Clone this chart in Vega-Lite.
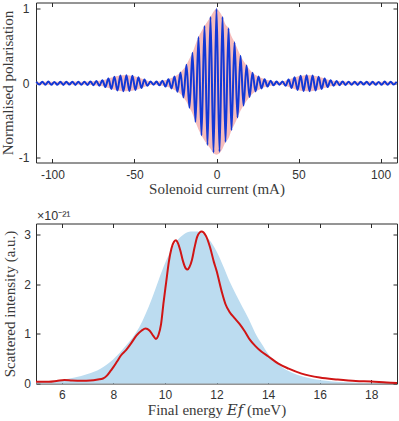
{
  "$schema": "https://vega.github.io/schema/vega-lite/v6.json",
  "padding": {"left": 0, "top": 1.5, "right": 2, "bottom": 0},
  "background": "white",
  "config": {
    "view": {"stroke": "#2b2b2b", "strokeWidth": 1},
    "axis": {"grid": false, "domain": false, "tickSize": -4, "tickColor": "#2b2b2b", "tickWidth": 1, "labelFont": "Liberation Sans, Arial, sans-serif", "labelFontSize": 12, "labelColor": "#333333", "titleFont": "'Liberation Serif', 'Times New Roman', 'DejaVu Serif', serif", "titleFontSize": 15, "titleFontWeight": "normal", "titleColor": "#3a3a3a"},
    "axisBottom": {"labelPadding": 11, "titlePadding": 1},
    "axisLeft": {"labelPadding": 11}
  },
  "datasets": {
    "pol": [
      {"x":-109.8,"p":0.02,"e":0.02,"lo":-0.02},
      {"x":-107.97,"p":-0.018,"e":0.018,"lo":-0.018},
      {"x":-106.14,"p":0.02,"e":0.02,"lo":-0.02},
      {"x":-104.31,"p":-0.02,"e":0.02,"lo":-0.02},
      {"x":-102.48,"p":0.022,"e":0.022,"lo":-0.022},
      {"x":-100.65,"p":-0.02,"e":0.02,"lo":-0.02},
      {"x":-98.82,"p":0.018,"e":0.018,"lo":-0.018},
      {"x":-96.99,"p":-0.02,"e":0.02,"lo":-0.02},
      {"x":-95.16,"p":0.02,"e":0.02,"lo":-0.02},
      {"x":-93.33,"p":-0.022,"e":0.022,"lo":-0.022},
      {"x":-91.5,"p":0.02,"e":0.02,"lo":-0.02},
      {"x":-89.67,"p":-0.018,"e":0.018,"lo":-0.018},
      {"x":-87.84,"p":0.02,"e":0.02,"lo":-0.02},
      {"x":-86.01,"p":-0.022,"e":0.022,"lo":-0.022},
      {"x":-84.18,"p":0.02,"e":0.02,"lo":-0.02},
      {"x":-82.35,"p":-0.02,"e":0.02,"lo":-0.02},
      {"x":-80.52,"p":0.021,"e":0.021,"lo":-0.021},
      {"x":-78.69,"p":-0.022,"e":0.022,"lo":-0.022},
      {"x":-76.86,"p":0.024,"e":0.024,"lo":-0.024},
      {"x":-75.03,"p":-0.026,"e":0.026,"lo":-0.026},
      {"x":-73.2,"p":0.029,"e":0.029,"lo":-0.029},
      {"x":-71.37,"p":-0.034,"e":0.034,"lo":-0.034},
      {"x":-69.54,"p":0.041,"e":0.041,"lo":-0.041},
      {"x":-67.71,"p":-0.051,"e":0.051,"lo":-0.051},
      {"x":-65.88,"p":0.063,"e":0.063,"lo":-0.063},
      {"x":-64.05,"p":-0.076,"e":0.076,"lo":-0.076},
      {"x":-62.22,"p":0.088,"e":0.088,"lo":-0.088},
      {"x":-60.39,"p":-0.098,"e":0.098,"lo":-0.098},
      {"x":-58.56,"p":0.104,"e":0.104,"lo":-0.104},
      {"x":-56.73,"p":-0.107,"e":0.107,"lo":-0.107},
      {"x":-54.9,"p":0.107,"e":0.107,"lo":-0.107},
      {"x":-53.07,"p":-0.105,"e":0.105,"lo":-0.105},
      {"x":-51.24,"p":0.1,"e":0.1,"lo":-0.1},
      {"x":-49.41,"p":-0.092,"e":0.092,"lo":-0.092},
      {"x":-47.58,"p":0.08,"e":0.08,"lo":-0.08},
      {"x":-45.75,"p":-0.065,"e":0.065,"lo":-0.065},
      {"x":-43.92,"p":0.05,"e":0.05,"lo":-0.05},
      {"x":-42.09,"p":-0.035,"e":0.035,"lo":-0.035},
      {"x":-40.26,"p":0.025,"e":0.025,"lo":-0.025},
      {"x":-38.43,"p":-0.02,"e":0.02,"lo":-0.02},
      {"x":-36.6,"p":0.022,"e":0.022,"lo":-0.022},
      {"x":-34.77,"p":-0.028,"e":0.028,"lo":-0.028},
      {"x":-32.94,"p":0.035,"e":0.035,"lo":-0.035},
      {"x":-31.11,"p":-0.045,"e":0.045,"lo":-0.045},
      {"x":-29.28,"p":0.055,"e":0.055,"lo":-0.055},
      {"x":-27.45,"p":-0.07,"e":0.07,"lo":-0.07},
      {"x":-25.62,"p":0.09,"e":0.09,"lo":-0.09},
      {"x":-23.79,"p":-0.115,"e":0.115,"lo":-0.115},
      {"x":-21.96,"p":0.145,"e":0.145,"lo":-0.145},
      {"x":-20.13,"p":-0.19,"e":0.19,"lo":-0.19},
      {"x":-18.3,"p":0.25,"e":0.25,"lo":-0.25},
      {"x":-16.47,"p":-0.33,"e":0.33,"lo":-0.33},
      {"x":-14.64,"p":0.41,"e":0.41,"lo":-0.41},
      {"x":-12.81,"p":-0.52,"e":0.52,"lo":-0.52},
      {"x":-10.98,"p":0.62,"e":0.62,"lo":-0.62},
      {"x":-9.15,"p":-0.7,"e":0.7,"lo":-0.7},
      {"x":-7.32,"p":0.77,"e":0.77,"lo":-0.77},
      {"x":-5.49,"p":-0.83,"e":0.83,"lo":-0.83},
      {"x":-3.66,"p":0.89,"e":0.89,"lo":-0.88},
      {"x":-1.83,"p":-0.93,"e":0.96,"lo":-0.94},
      {"x":0,"p":1.0,"e":1.0,"lo":-0.96},
      {"x":1.83,"p":-0.92,"e":0.96,"lo":-0.94},
      {"x":3.66,"p":0.89,"e":0.89,"lo":-0.88},
      {"x":5.49,"p":-0.79,"e":0.79,"lo":-0.79},
      {"x":7.32,"p":0.74,"e":0.74,"lo":-0.74},
      {"x":9.15,"p":-0.63,"e":0.63,"lo":-0.63},
      {"x":10.98,"p":0.55,"e":0.55,"lo":-0.55},
      {"x":12.81,"p":-0.46,"e":0.46,"lo":-0.46},
      {"x":14.64,"p":0.37,"e":0.37,"lo":-0.37},
      {"x":16.47,"p":-0.3,"e":0.3,"lo":-0.3},
      {"x":18.3,"p":0.24,"e":0.24,"lo":-0.24},
      {"x":20.13,"p":-0.185,"e":0.185,"lo":-0.185},
      {"x":21.96,"p":0.14,"e":0.14,"lo":-0.14},
      {"x":23.79,"p":-0.11,"e":0.11,"lo":-0.11},
      {"x":25.62,"p":0.09,"e":0.09,"lo":-0.09},
      {"x":27.45,"p":-0.07,"e":0.07,"lo":-0.07},
      {"x":29.28,"p":0.055,"e":0.055,"lo":-0.055},
      {"x":31.11,"p":-0.045,"e":0.045,"lo":-0.045},
      {"x":32.94,"p":0.035,"e":0.035,"lo":-0.035},
      {"x":34.77,"p":-0.028,"e":0.028,"lo":-0.028},
      {"x":36.6,"p":0.022,"e":0.022,"lo":-0.022},
      {"x":38.43,"p":-0.02,"e":0.02,"lo":-0.02},
      {"x":40.26,"p":0.025,"e":0.025,"lo":-0.025},
      {"x":42.09,"p":-0.035,"e":0.035,"lo":-0.035},
      {"x":43.92,"p":0.05,"e":0.05,"lo":-0.05},
      {"x":45.75,"p":-0.065,"e":0.065,"lo":-0.065},
      {"x":47.58,"p":0.08,"e":0.08,"lo":-0.08},
      {"x":49.41,"p":-0.092,"e":0.092,"lo":-0.092},
      {"x":51.24,"p":0.1,"e":0.1,"lo":-0.1},
      {"x":53.07,"p":-0.105,"e":0.105,"lo":-0.105},
      {"x":54.9,"p":0.107,"e":0.107,"lo":-0.107},
      {"x":56.73,"p":-0.107,"e":0.107,"lo":-0.107},
      {"x":58.56,"p":0.104,"e":0.104,"lo":-0.104},
      {"x":60.39,"p":-0.098,"e":0.098,"lo":-0.098},
      {"x":62.22,"p":0.088,"e":0.088,"lo":-0.088},
      {"x":64.05,"p":-0.076,"e":0.076,"lo":-0.076},
      {"x":65.88,"p":0.063,"e":0.063,"lo":-0.063},
      {"x":67.71,"p":-0.051,"e":0.051,"lo":-0.051},
      {"x":69.54,"p":0.041,"e":0.041,"lo":-0.041},
      {"x":71.37,"p":-0.034,"e":0.034,"lo":-0.034},
      {"x":73.2,"p":0.029,"e":0.029,"lo":-0.029},
      {"x":75.03,"p":-0.026,"e":0.026,"lo":-0.026},
      {"x":76.86,"p":0.024,"e":0.024,"lo":-0.024},
      {"x":78.69,"p":-0.022,"e":0.022,"lo":-0.022},
      {"x":80.52,"p":0.021,"e":0.021,"lo":-0.021},
      {"x":82.35,"p":-0.02,"e":0.02,"lo":-0.02},
      {"x":84.18,"p":0.02,"e":0.02,"lo":-0.02},
      {"x":86.01,"p":-0.022,"e":0.022,"lo":-0.022},
      {"x":87.84,"p":0.02,"e":0.02,"lo":-0.02},
      {"x":89.67,"p":-0.018,"e":0.018,"lo":-0.018},
      {"x":91.5,"p":0.02,"e":0.02,"lo":-0.02},
      {"x":93.33,"p":-0.022,"e":0.022,"lo":-0.022},
      {"x":95.16,"p":0.02,"e":0.02,"lo":-0.02},
      {"x":96.99,"p":-0.02,"e":0.02,"lo":-0.02},
      {"x":98.82,"p":0.018,"e":0.018,"lo":-0.018},
      {"x":100.65,"p":-0.02,"e":0.02,"lo":-0.02},
      {"x":102.48,"p":0.022,"e":0.022,"lo":-0.022},
      {"x":104.31,"p":-0.02,"e":0.02,"lo":-0.02},
      {"x":106.14,"p":0.02,"e":0.02,"lo":-0.02},
      {"x":107.97,"p":-0.018,"e":0.018,"lo":-0.018},
      {"x":109.8,"p":0.02,"e":0.02,"lo":-0.02}
    ],
    "fill": [
      {"E":5.0,"v":0.03},{"E":5.5,"v":0.045},{"E":6.0,"v":0.075},{"E":6.5,"v":0.12},
      {"E":7.0,"v":0.19},{"E":7.5,"v":0.3},{"E":8.0,"v":0.49},{"E":8.5,"v":0.77},
      {"E":9.0,"v":1.13},{"E":9.5,"v":1.72},{"E":9.75,"v":2.08},{"E":10.0,"v":2.42},
      {"E":10.25,"v":2.7},{"E":10.5,"v":2.9},{"E":10.75,"v":3.02},{"E":11.0,"v":3.07},
      {"E":11.25,"v":3.07},{"E":11.5,"v":3.02},{"E":11.75,"v":2.88},{"E":12.0,"v":2.67},
      {"E":12.25,"v":2.38},{"E":12.5,"v":2.07},{"E":12.75,"v":1.8},{"E":13.0,"v":1.55},
      {"E":13.25,"v":1.3},{"E":13.5,"v":1.02},{"E":13.75,"v":0.8},{"E":14.0,"v":0.6},
      {"E":14.25,"v":0.46},{"E":14.5,"v":0.35},{"E":14.75,"v":0.26},{"E":15.0,"v":0.2},
      {"E":15.5,"v":0.12},{"E":16.0,"v":0.07},{"E":16.5,"v":0.04},{"E":17.0,"v":0.025},
      {"E":17.5,"v":0.015},{"E":18.0,"v":0.01},{"E":19.0,"v":0.005}
    ],
    "line": [
      {"E":5.0,"v":0.035},{"E":5.5,"v":0.035},{"E":5.8,"v":0.05},{"E":6.1,"v":0.07},
      {"E":6.4,"v":0.06},{"E":6.8,"v":0.055},{"E":7.1,"v":0.06},{"E":7.4,"v":0.08},
      {"E":7.6,"v":0.1},{"E":7.75,"v":0.16},{"E":7.9,"v":0.26},{"E":8.0,"v":0.33},
      {"E":8.15,"v":0.45},{"E":8.3,"v":0.57},{"E":8.5,"v":0.68},{"E":8.7,"v":0.82},
      {"E":8.9,"v":0.97},{"E":9.1,"v":1.07},{"E":9.25,"v":1.11},{"E":9.4,"v":1.07},
      {"E":9.55,"v":0.96},{"E":9.65,"v":0.9},{"E":9.75,"v":0.98},{"E":9.85,"v":1.2},
      {"E":9.95,"v":1.65},{"E":10.05,"v":2.05},{"E":10.15,"v":2.45},{"E":10.25,"v":2.72},
      {"E":10.35,"v":2.86},{"E":10.43,"v":2.89},{"E":10.5,"v":2.84},{"E":10.6,"v":2.68},
      {"E":10.7,"v":2.47},{"E":10.8,"v":2.33},{"E":10.88,"v":2.3},{"E":10.95,"v":2.35},
      {"E":11.05,"v":2.5},{"E":11.15,"v":2.75},{"E":11.25,"v":2.96},{"E":11.35,"v":3.05},
      {"E":11.42,"v":3.07},{"E":11.5,"v":3.05},{"E":11.6,"v":2.97},{"E":11.75,"v":2.75},
      {"E":11.9,"v":2.45},{"E":12.0,"v":2.28},{"E":12.2,"v":1.86},{"E":12.35,"v":1.6},
      {"E":12.5,"v":1.45},{"E":12.7,"v":1.32},{"E":12.9,"v":1.2},{"E":13.1,"v":1.05},
      {"E":13.3,"v":0.88},{"E":13.5,"v":0.76},{"E":13.75,"v":0.64},{"E":14.0,"v":0.55},
      {"E":14.4,"v":0.4},{"E":14.8,"v":0.3},{"E":15.3,"v":0.2},{"E":16.0,"v":0.12},
      {"E":16.7,"v":0.08},{"E":17.4,"v":0.05},{"E":18.0,"v":0.04},{"E":18.6,"v":0.02},
      {"E":19.0,"v":0.012}
    ]
  },
  "vconcat": [
    {
      "width": 361,
      "height": 160,
      "data": {"name": "pol"},
      "layer": [
        {
          "mark": {"type": "area", "color": "#f5bcbc", "interpolate": "monotone"},
          "encoding": {
            "x": {"field": "x", "type": "quantitative", "scale": {"domain": [-110, 110], "nice": false, "zero": false},
                  "axis": {"values": [-100, -50, 0, 50, 100], "title": "Solenoid current (mA)", "labelExpr": "replace(datum.label, '\u2212', '-')"}},
            "y": {"field": "e", "type": "quantitative", "scale": {"domain": [-1.065, 1.085], "nice": false, "zero": false},
                  "axis": {"values": [-1, 0, 1], "title": "Normalised polarisation", "titleX": -20.5, "labelExpr": "replace(datum.label, '\u2212', '-')"}},
            "y2": {"field": "lo"}
          }
        },
        {
          "mark": {"type": "line", "color": "#1238d6", "strokeWidth": 2, "interpolate": "monotone"},
          "encoding": {
            "x": {"field": "x", "type": "quantitative", "scale": {"domain": [-110, 110], "nice": false, "zero": false},
                  "axis": {"orient": "top", "values": [-100, -50, 0, 50, 100], "labels": false, "title": null}},
            "y": {"field": "p", "type": "quantitative", "scale": {"domain": [-1.065, 1.085], "nice": false, "zero": false},
                  "axis": {"orient": "right", "values": [-1, 0, 1], "labels": false, "title": null}}
          }
        }
      ],
      "resolve": {"axis": {"x": "independent", "y": "independent"}}
    },
    {
      "width": 361,
      "height": 160,
      "title": {"text": "×10⁻²¹", "anchor": "start", "frame": "group", "offset": 1, "dx": 1, "fontSize": 12.5, "font": "Liberation Sans, Arial, sans-serif", "fontWeight": "normal", "color": "#333333"},
      "layer": [
        {
          "data": {"name": "fill"},
          "mark": {"type": "area", "color": "#bcdcf0", "interpolate": "monotone"},
          "encoding": {
            "x": {"field": "E", "type": "quantitative", "scale": {"domain": [5, 19], "nice": false, "zero": false},
                  "axis": {"values": [6, 8, 10, 12, 14, 16, 18], "title": "Final energy 𝐸𝑓 (meV)", "labelPadding": 9.5, "titlePadding": 2}},
            "y": {"field": "v", "type": "quantitative", "scale": {"domain": [0, 3.23], "nice": false, "zero": false},
                  "axis": {"values": [0, 1, 2, 3], "title": "Scattered intensity (a.u.)", "titleX": -19, "labelPadding": 9.5}}
          }
        },
        {
          "data": {"name": "line"},
          "mark": {"type": "line", "color": "#d01515", "strokeWidth": 2, "interpolate": "monotone"},
          "encoding": {
            "x": {"field": "E", "type": "quantitative", "scale": {"domain": [5, 19], "nice": false, "zero": false},
                  "axis": {"orient": "top", "values": [6, 8, 10, 12, 14, 16, 18], "labels": false, "title": null}},
            "y": {"field": "v", "type": "quantitative", "scale": {"domain": [0, 3.23], "nice": false, "zero": false},
                  "axis": {"orient": "right", "values": [0, 1, 2, 3], "labels": false, "title": null}}
          }
        }
      ],
      "resolve": {"axis": {"x": "independent", "y": "independent"}}
    }
  ],
  "spacing": 61,
  "bounds": "flush"
}
